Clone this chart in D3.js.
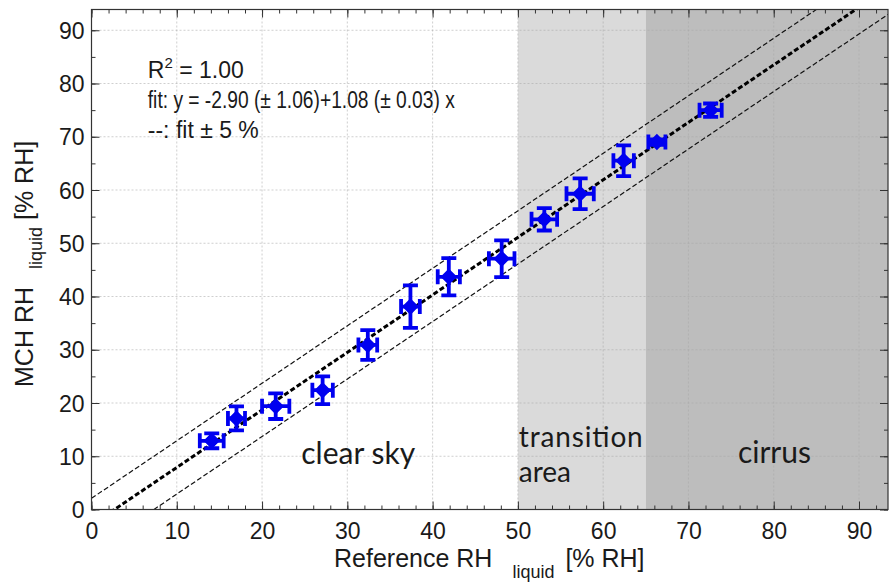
<!DOCTYPE html>
<html>
<head>
<meta charset="utf-8">
<script src="https://cdn.jsdelivr.net/npm/d3@7"></script>
<style>
  body { margin: 0; background: #fff; }
  svg text { font-family: "Liberation Sans", Arial, sans-serif; fill: #1a1a1a; }
  .region { font-family: Lato, "Open Sans", sans-serif; }
</style>
</head>
<body>
<div id="chart"></div>
<script>
// reference vs. MCH relative humidity over liquid water
const refRH  = [14.1, 17.0, 21.6, 27.1, 32.4, 37.4, 41.9, 48.1, 53.1, 57.3, 62.4, 66.3, 72.6];
const refErr = [1.4, 1.0, 1.6, 1.2, 1.1, 1.1, 1.3, 1.5, 1.5, 1.6, 1.2, 1.0, 1.3];
const mchRH  = [12.9, 17.1, 19.4, 22.4, 30.9, 38.1, 43.7, 47.1, 54.5, 59.3, 65.5, 69.0, 75.0];
const mchErr = [1.4, 2.25, 2.4, 2.6, 2.8, 4.0, 3.5, 3.45, 2.1, 2.9, 2.9, 0.5, 1.25];

const fitA = -2.90, fitB = 1.08, band = 5;
const regions = [
  { from: 50, to: 65, color: "#dadada" },
  { from: 65, to: 100, color: "#bdbdbd" }
];
const majorTicks = [0, 10, 20, 30, 40, 50, 60, 70, 80, 90];

const W = 890, H = 582;
const margin = { top: 9.5, right: 2, bottom: 72.5, left: 91.5 };
const width = W - margin.left - margin.right;
const height = H - margin.top - margin.bottom;

const svg = d3.select("#chart").append("svg")
  .attr("width", W).attr("height", H);
const g = svg.append("g")
  .attr("transform", "translate(" + margin.left + "," + margin.top + ")");

const x = d3.scaleLinear().domain([0, 93.4]).range([0, width]);
const y = d3.scaleLinear().domain([0, 93.9]).range([height, 0]);

g.append("defs").append("clipPath").attr("id", "clip")
  .append("rect").attr("width", width).attr("height", height);
const plot = g.append("g").attr("clip-path", "url(#clip)");

// shaded regions
plot.selectAll("rect.reg").data(regions).enter().append("rect")
  .attr("x", d => x(d.from)).attr("y", 0)
  .attr("width", d => x(d.to) - x(d.from)).attr("height", height)
  .attr("fill", d => d.color);

// dotted grid
plot.selectAll("line.gx").data(majorTicks.slice(1)).enter().append("line")
  .attr("x1", d => x(d)).attr("x2", d => x(d)).attr("y1", 0).attr("y2", height)
  .attr("stroke", "#a8a8a8").attr("stroke-opacity", 0.55).attr("stroke-dasharray", "2,2");
plot.selectAll("line.gy").data(majorTicks.slice(1)).enter().append("line")
  .attr("y1", d => y(d)).attr("y2", d => y(d)).attr("x1", 0).attr("x2", width)
  .attr("stroke", "#a8a8a8").attr("stroke-opacity", 0.55).attr("stroke-dasharray", "2,2");

// region labels
const lab = g.append("g").attr("class", "region");
lab.append("text").attr("class", "region").style("font-size", "30px")
  .attr("x", x(24.6)).attr("y", y(8.6)).text("clear sky");
lab.append("text").attr("class", "region").style("font-size", "28px")
  .attr("x", x(50.1)).attr("y", y(11.7)).attr("textLength", 124).text("transition");
lab.append("text").attr("class", "region").style("font-size", "28px")
  .attr("x", x(50.1)).attr("y", y(5.1)).text("area");
lab.append("text").attr("class", "region").style("font-size", "30px")
  .attr("x", x(75.8)).attr("y", y(8.7)).text("cirrus");

// fit and +-5 lines
const xs = [0, 100];
const line = d3.line().x(d => x(d[0])).y(d => y(d[1]));
[band, -band].forEach(off => {
  plot.append("path")
    .datum(xs.map(v => [v, fitA + fitB * v + off]))
    .attr("d", line).attr("fill", "none").attr("stroke", "#111")
    .attr("stroke-width", 1.2).attr("stroke-dasharray", "5,2.5");
});
plot.append("path")
  .datum(xs.map(v => [v, fitA + fitB * v]))
  .attr("d", line).attr("fill", "none").attr("stroke", "#000")
  .attr("stroke-width", 3).attr("stroke-dasharray", "5,2.5");

// points with error bars
const pts = refRH.map((v, i) => ({ x: v, y: mchRH[i], ex: refErr[i], ey: mchErr[i] }));
const blue = "#0000f0";
const cap = 7.5, bw = 3.8;
const pg = plot.selectAll("g.pt").data(pts).enter().append("g");
pg.append("line")
  .attr("x1", d => x(d.x)).attr("x2", d => x(d.x))
  .attr("y1", d => y(d.y - d.ey)).attr("y2", d => y(d.y + d.ey))
  .attr("stroke", blue).attr("stroke-width", bw);
pg.append("line")
  .attr("x1", d => x(d.x - d.ex)).attr("x2", d => x(d.x + d.ex))
  .attr("y1", d => y(d.y)).attr("y2", d => y(d.y))
  .attr("stroke", blue).attr("stroke-width", bw);
pg.selectAll("line.capy").data(d => [[d.x, d.y - d.ey], [d.x, d.y + d.ey]]).enter().append("line")
  .attr("x1", d => x(d[0]) - cap).attr("x2", d => x(d[0]) + cap)
  .attr("y1", d => y(d[1])).attr("y2", d => y(d[1]))
  .attr("stroke", blue).attr("stroke-width", bw);
pg.selectAll("line.capx").data(d => [[d.x - d.ex, d.y], [d.x + d.ex, d.y]]).enter().append("line")
  .attr("x1", d => x(d[0])).attr("x2", d => x(d[0]))
  .attr("y1", d => y(d[1]) - cap).attr("y2", d => y(d[1]) + cap)
  .attr("stroke", blue).attr("stroke-width", bw);
pg.append("path")
  .attr("transform", d => "translate(" + x(d.x) + "," + y(d.y) + ")")
  .attr("d", d3.symbol(d3.symbolDiamond2, 120))
  .attr("fill", blue).attr("stroke", blue).attr("stroke-width", 2);

// axes with inward ticks on all sides
const axStyle = sel => {
  sel.select(".domain").remove();
  sel.selectAll(".tick line").attr("stroke", "#333");
  sel.selectAll(".tick text").style("font-size", "23px").attr("fill", "#1a1a1a").attr("dy", "0.35em");
};
const minorX = d3.range(0, 94, 2), minorY = d3.range(0, 94, 5);
g.append("g").attr("transform", "translate(0," + height + ")")
  .call(d3.axisBottom(x).tickValues(minorX).tickSize(-4).tickFormat("")).call(axStyle);
g.append("g").attr("transform", "translate(0," + height + ")")
  .call(d3.axisBottom(x).tickValues(majorTicks).tickSize(-8).tickPadding(21)).call(axStyle);
g.append("g")
  .call(d3.axisTop(x).tickValues(minorX).tickSize(-4).tickFormat("")).call(axStyle);
g.append("g")
  .call(d3.axisTop(x).tickValues(majorTicks).tickSize(-8).tickFormat("")).call(axStyle);
g.append("g")
  .call(d3.axisLeft(y).tickValues(minorY).tickSize(-4).tickFormat("")).call(axStyle);
g.append("g")
  .call(d3.axisLeft(y).tickValues(majorTicks).tickSize(-8).tickPadding(7)).call(axStyle);
g.append("g").attr("transform", "translate(" + width + ",0)")
  .call(d3.axisRight(y).tickValues(minorY).tickSize(-4).tickFormat("")).call(axStyle);
g.append("g").attr("transform", "translate(" + width + ",0)")
  .call(d3.axisRight(y).tickValues(majorTicks).tickSize(-8).tickFormat("")).call(axStyle);

g.append("rect").attr("width", width).attr("height", height)
  .attr("fill", "none").attr("stroke", "#333").attr("stroke-width", 1.2);

// annotation
const ann = g.append("g").style("font-size", "23px");
const r2 = ann.append("text").attr("x", x(6.6)).attr("y", y(81.0));
r2.append("tspan").text("R");
r2.append("tspan").attr("dy", -10).style("font-size", "15px").text("2");
r2.append("tspan").attr("dy", 10).text(" = 1.00");
ann.append("text").attr("x", x(6.6)).attr("y", y(75.4))
  .attr("textLength", 307).attr("lengthAdjust", "spacingAndGlyphs")
  .text("fit: y = -2.90 (\u00b1 1.06)+1.08 (\u00b1 0.03) x");
ann.append("text").attr("x", x(6.6)).attr("y", y(69.7))
  .text("--: fit \u00b1 5 %");

// axis titles
const xt = svg.append("text")
  .attr("x", 334).attr("y", 567).style("font-size", "25px");
xt.append("tspan").text("Reference RH");
xt.append("tspan").attr("dx", 20).attr("dy", 11).style("font-size", "18px").text("liquid");
xt.append("tspan").attr("dx", 4).attr("dy", -11).text(" [% RH]");

const yt = svg.append("text")
  .attr("transform", "translate(33,387) rotate(-90)")
  .style("font-size", "25px");
yt.append("tspan").text("MCH RH");
yt.append("tspan").attr("dx", 18).attr("dy", 9).style("font-size", "18px").text("liquid");
yt.append("tspan").attr("dy", -9).text(" [% RH]");
</script>
</body>
</html>
